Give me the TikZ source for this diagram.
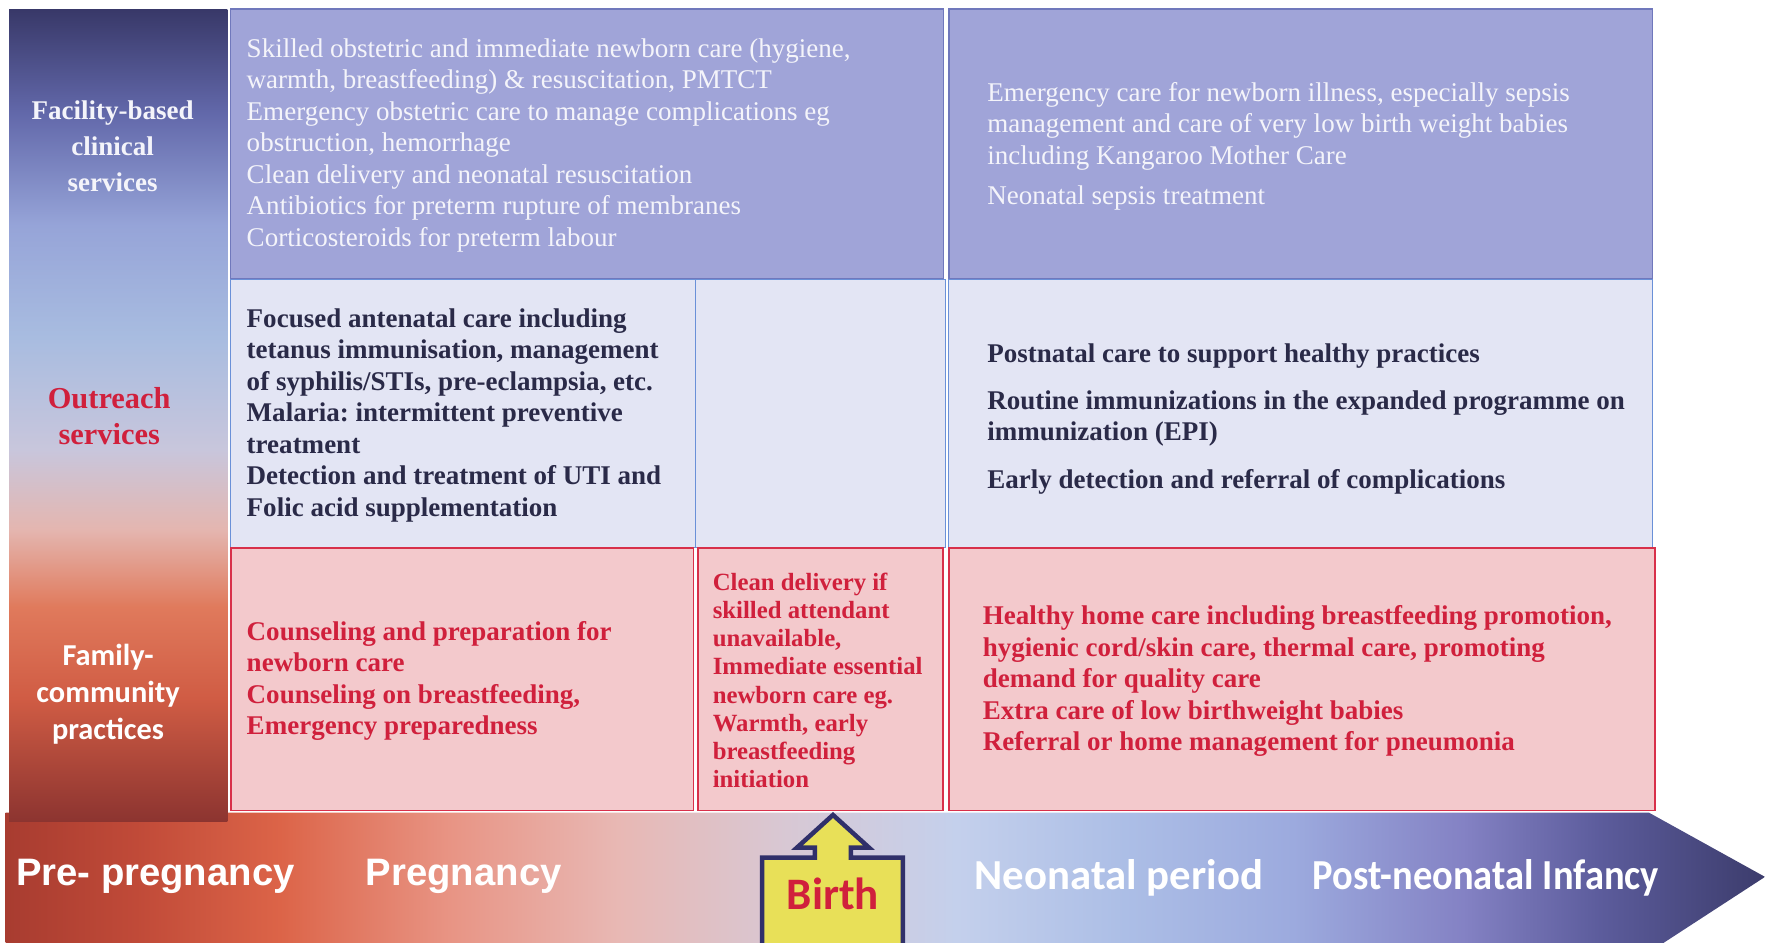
\documentclass[tikz,border=0pt]{standalone}
\usepackage{fontspec}
\setmainfont{Liberation Serif}
\newfontfamily\sansb{Carlito}
\newfontfamily\arialb{Liberation Sans}
\frenchspacing
\definecolor{cTop}{HTML}{383868}
\definecolor{cA}{HTML}{6268AA}
\definecolor{cB}{HTML}{96A4D8}
\definecolor{cC}{HTML}{A8BCE0}
\definecolor{cD}{HTML}{C8C6DC}
\definecolor{cE}{HTML}{E4B6B0}
\definecolor{cF}{HTML}{E07A5C}
\definecolor{cG}{HTML}{D05C44}
\definecolor{cH}{HTML}{8C3430}
\definecolor{b1}{HTML}{A83C30}
\definecolor{b2}{HTML}{C04A38}
\definecolor{b3}{HTML}{DC6448}
\definecolor{b4}{HTML}{E89484}
\definecolor{b5}{HTML}{E8B8B4}
\definecolor{b6}{HTML}{D8C8D4}
\definecolor{b7}{HTML}{C4D0EC}
\definecolor{b8}{HTML}{ACBEE6}
\definecolor{b9}{HTML}{9CAADE}
\definecolor{b10}{HTML}{8482C4}
\definecolor{b11}{HTML}{5C5C9C}
\definecolor{b12}{HTML}{3C3C6C}
\definecolor{facFill}{HTML}{A0A4D8}
\definecolor{facDraw}{HTML}{7078BC}
\definecolor{facText}{HTML}{F4F4FA}
\definecolor{outFill}{HTML}{E3E5F4}
\definecolor{outDraw}{HTML}{6A90D8}
\definecolor{outText}{HTML}{2A2A48}
\definecolor{famFill}{HTML}{F3C9CC}
\definecolor{famDraw}{HTML}{D8304A}
\definecolor{redText}{HTML}{D0203C}
\definecolor{birthFill}{HTML}{E8E058}
\definecolor{birthDraw}{HTML}{30306A}
\pgfdeclareverticalshading{colshade}{100bp}{color(0bp)=(cH); color(25bp)=(cH); color(32.6bp)=(cG); color(38.2bp)=(cF); color(43bp)=(cE); color(47.9bp)=(cD); color(54.8bp)=(cC); color(61.7bp)=(cB); color(68.6bp)=(cA); color(75bp)=(cTop); color(100bp)=(cTop)}
\pgfdeclarehorizontalshading{bandshade}{100bp}{color(0bp)=(b1); color(25bp)=(b1); color(28.7bp)=(b2); color(32.8bp)=(b3); color(37.6bp)=(b4); color(42.4bp)=(b5); color(47.2bp)=(b6); color(52bp)=(b7); color(56.8bp)=(b8); color(61.6bp)=(b9); color(66.4bp)=(b10); color(70.3bp)=(b11); color(75bp)=(b12); color(100bp)=(b12)}
\tikzset{
  facil/.style={fill=facFill, draw=facDraw, line width=1.2pt},
  outr/.style={fill=outFill, draw=outDraw, line width=1pt},
  fam/.style={fill=famFill, draw=famDraw, line width=1.5pt},
  txt/.style={anchor=west, align=left, inner sep=0pt},
  ftxt/.style={txt, text=facText, font=\fontsize{24}{28}\selectfont},
  otxt/.style={txt, text=outText, font=\fontsize{24}{28}\selectfont\bfseries},
  rtxt/.style={txt, text=redText, font=\fontsize{24}{28}\selectfont\bfseries},
  lab/.style={align=center, inner sep=0pt},
  tla/.style={inner sep=0pt, text=white, font=\arialb\fontsize{34}{40}\selectfont\bfseries},
  tlc/.style={inner sep=0pt, text=white, font=\sansb\fontsize{38}{40}\selectfont\bfseries}
}
\begin{document}
\begin{tikzpicture}[x=1pt,y=-1pt]
\useasboundingbox (0,0) rectangle (1568,837);
\clip (0,0) rectangle (1568,837);
\fill[white] (0,0) rectangle (1568,837);
% timeline band
\path[shading=bandshade] (5,722) -- (1465,722) -- (1568,779) -- (1465,846) -- (5,846) -- cycle;
% left column
\path[shading=colshade] (8,8) rectangle (202,730);
% cells
\path[facil] (205,8) rectangle (838,248);
\path[facil] (843,8) rectangle (1468,248);
\path[outr] (205,248) rectangle (618,486);
\path[outr] (618,248) rectangle (840,486);
\path[outr] (843,248) rectangle (1468,486);
\path[fam] (205,487) rectangle (616,720);
\path[fam] (620,487) rectangle (838,720);
\path[fam] (843,487) rectangle (1470,720);
% row labels
\node[lab, text=facText, font=\fontsize{24}{32}\selectfont\bfseries] (lfac) at (100,130) {Facility-based\\clinical\\services};
\node[lab, text=redText, font=\fontsize{27}{32}\selectfont\bfseries] (lout) at (97,370) {Outreach\\services};
\node[lab, text=white, font=\sansb\fontsize{27}{33}\selectfont\bfseries] (lfam) at (96,617) {Family-\\community\\practices};
% facility texts
\node[ftxt] (f1) at (219,129) {Skilled obstetric and immediate newborn care (hygiene,\\warmth, breastfeeding) \& resuscitation, PMTCT\\Emergency obstetric care to manage complications eg\\obstruction, hemorrhage\\Clean delivery and neonatal resuscitation\\Antibiotics for preterm rupture of membranes\\Corticosteroids for preterm labour};
\node[ftxt] (f2) at (877,130) {Emergency care for newborn illness, especially sepsis\\management and care of very low birth weight babies\\including Kangaroo Mother Care\\[8pt]Neonatal sepsis treatment};
% outreach texts
\node[otxt] (o1) at (219,369) {Focused antenatal care including\\tetanus immunisation, management\\of syphilis/STIs, pre-eclampsia, etc.\\Malaria: intermittent preventive\\treatment\\Detection and treatment of UTI and\\Folic acid supplementation};
\node[otxt] (o2) at (877,372) {Postnatal care to support healthy practices\\[14pt]Routine immunizations in the expanded programme on\\immunization (EPI)\\[14pt]Early detection and referral of complications};
% family texts
\node[rtxt] (r1) at (219,605) {Counseling and preparation for\\newborn care\\Counseling on breastfeeding,\\Emergency preparedness};
\node[rtxt, font=\fontsize{22}{25}\selectfont\bfseries] (r2) at (633,604.5) {Clean delivery if\\skilled attendant\\unavailable,\\Immediate essential\\newborn care eg.\\Warmth, early\\breastfeeding\\initiation};
\node[rtxt] (r3) at (873,605) {Healthy home care including breastfeeding promotion,\\hygienic cord/skin care, thermal care, promoting\\demand for quality care\\Extra care of low birthweight babies\\Referral or home management for pneumonia};
% birth arrow
\draw[fill=birthFill, draw=birthDraw, line width=4pt, line join=miter]
  (740,724) -- (772,753) -- (756,753) -- (756,762) -- (802,762) -- (802,850)
  -- (677,850) -- (677,762) -- (724,762) -- (724,753) -- (708,753) -- cycle;
\node[inner sep=0pt, text=redText, font=\sansb\fontsize{40}{44}\selectfont\bfseries] (birth) at (740,794) {Birth};
% timeline labels
\node[tla] (t1) at (138,779) {Pre- pregnancy};
\node[tla] (t2) at (412,779) {Pregnancy};
\node[tlc] (t3) at (994,780) {Neonatal period};
\node[tlc] (t4) at (1320,780) {\scalebox{0.9}[1]{Post-neonatal Infancy}};
\end{tikzpicture}
\end{document}
